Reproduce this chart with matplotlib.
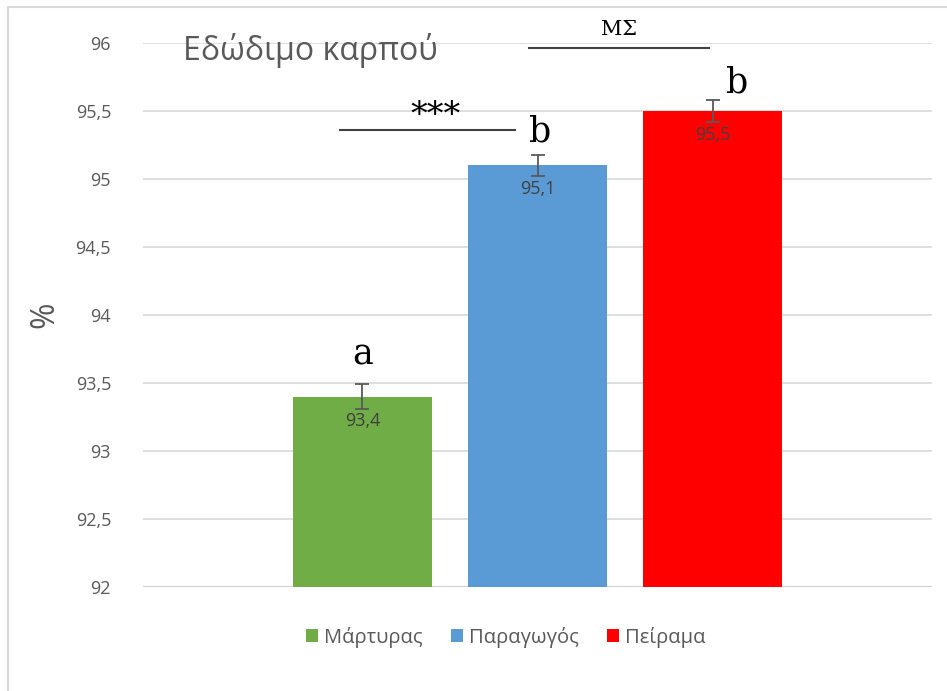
import matplotlib.pyplot as plt
from matplotlib.patches import Rectangle
from matplotlib.ticker import FuncFormatter

plt.rcParams['font.family'] = ['Open Sans', 'DejaVu Sans']

# treatments, mean values and error bars
series = ['Μάρτυρας', 'Παραγωγός', 'Πείραμα']
values = [93.4, 95.1, 95.5]
errors = [0.09, 0.08, 0.08]
colors = ['#70AD47', '#5B9BD5', '#FF0000']
letters = ['a', 'b', 'b']

# significance brackets: (from bar, to bar, label)
sig_lines = [(0, 1, '***'), (1, 2, 'ΜΣ')]

fig = plt.figure(figsize=(9.47, 6.91), dpi=100)
fig.patches.append(Rectangle((8 / 947, -0.01), 1.0, 1 - 7 / 691 + 0.01,
                             transform=fig.transFigure, fill=False,
                             edgecolor='#D9D9D9', linewidth=1.5))
ax = fig.add_axes([143 / 947, 1 - 587 / 691, 789 / 947, 544 / 691])

x = list(range(len(series)))
for i in x:
    ax.bar(i, values[i] - 92, bottom=92, width=0.79, color=colors[i],
           label=series[i], zorder=2)
    ax.errorbar(i, values[i], yerr=errors[i], fmt='none', ecolor='#595959',
                elinewidth=1.3, capsize=5, capthick=1.3, zorder=3)
    ax.text(i, values[i] - 0.11, f'{values[i]:.1f}'.replace('.', ','),
            ha='center', va='top', fontsize=13, color='#404040', zorder=4)

# significance letters above the bars
letter_pos = [(0, 93.71), (1.014, 95.35), (2.14, 95.71)]
for (lx, ly), t in zip(letter_pos, letters):
    ax.text(lx, ly, t, ha='center', va='center', fontsize=25,
            family='DejaVu Serif', color='black', zorder=4)

# comparison lines between treatments
line_y = [95.36, 95.96]
line_span = [(-0.13, 0.87), (0.95, 1.98)]
label_y = [95.46, 96.1]
for (x0, x1), ly, ty, (a, b, lab) in zip(line_span, line_y, label_y, sig_lines):
    ax.plot([x0, x1], [ly, ly], color='#404040', linewidth=1.5, zorder=4,
            clip_on=False)
    ax.text((x0 + x1) / 2 + (0.05 if lab == '***' else 0), ty, lab,
            ha='center', va='center',
            fontsize=24 if lab == '***' else 15, family='DejaVu Serif',
            color='black', zorder=4, clip_on=False)

ax.set_xlim(-1.254, 3.254)
ax.set_ylim(92, 96)
ax.set_yticks([92 + 0.5 * k for k in range(9)])
ax.yaxis.set_major_formatter(FuncFormatter(
    lambda v, p: (f'{v:g}').replace('.', ',')))
ax.tick_params(axis='y', length=0, pad=23, labelsize=13, labelcolor='#595959')
ax.set_xticks([])
ax.grid(axis='y', color='#D9D9D9', linewidth=1.2, zorder=0)
ax.set_axisbelow(True)
for s in ax.spines.values():
    s.set_visible(False)
ax.axhline(92, color='#D0D0D0', linewidth=1.5, zorder=1)

ax.text(45 / 947, 1 - 315 / 691, '%', transform=fig.transFigure,
        fontsize=23, color='#595959', rotation=90, ha='center', va='center')
ax.text(183 / 947, 1 - 50 / 691, 'Εδώδιμο καρπού', transform=fig.transFigure,
        fontsize=23, color='#595959', va='center', ha='left')

ax.legend(loc='center', bbox_to_anchor=(506 / 947, 1 - 637 / 691),
          bbox_transform=fig.transFigure, ncol=3, frameon=False,
          fontsize=14.5, labelcolor='#595959', handlelength=0.6,
          handleheight=0.6, handletextpad=0.3, columnspacing=1.4)

fig.savefig('out.png', dpi=100)
